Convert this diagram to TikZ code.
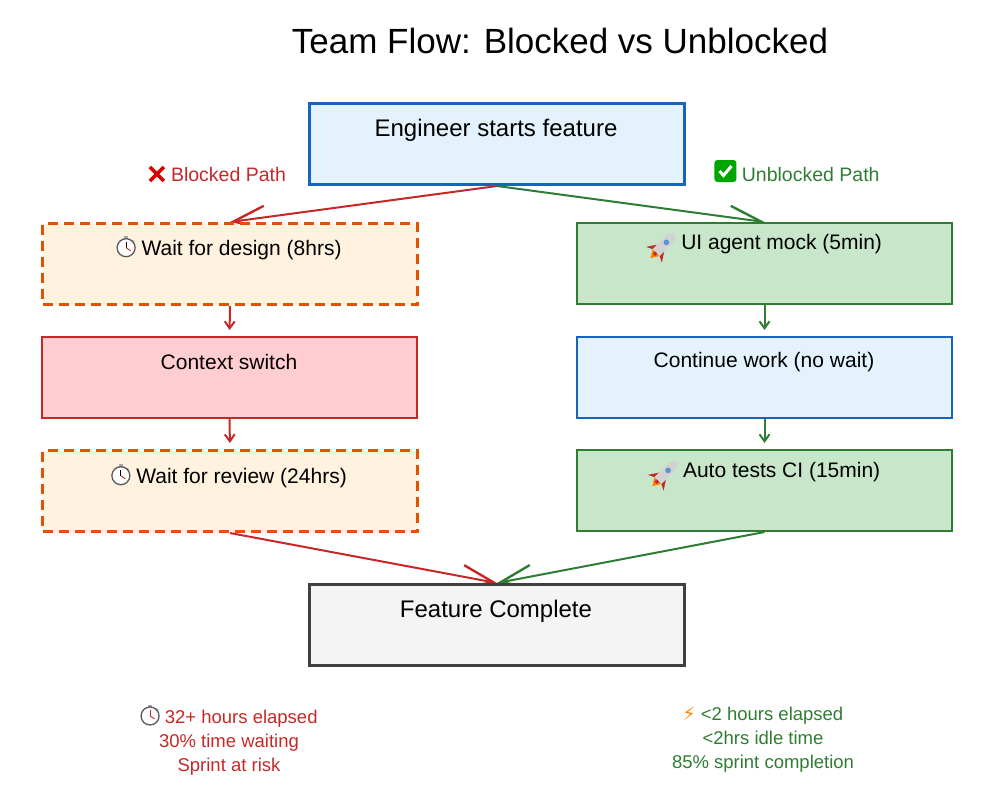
\documentclass[tikz,border=0pt]{standalone}
\usepackage{fontspec}
\setmainfont{Liberation Sans}
\newfontfamily\emo{DejaVu Sans}
\usetikzlibrary{arrows.meta,backgrounds}
\definecolor{rd}{HTML}{C62828}
\definecolor{gn}{HTML}{2E7D32}
\definecolor{bl}{HTML}{1565C0}
\definecolor{og}{HTML}{E65100}
\definecolor{fbl}{HTML}{E3F2FD}
\definecolor{for}{HTML}{FFF3E0}
\definecolor{fpk}{HTML}{FFCDD2}
\definecolor{fgn}{HTML}{C8E6C9}
\definecolor{fgy}{HTML}{F4F4F4}
\newcommand{\mysw}{\tikz[baseline=-3pt,x=1.5pt,y=1.5pt]{\fill[gray!70] (-1.5,8.5) rectangle (1.5,10.5);\fill[gray!70] (4.5,7) circle (1.2);\draw[gray!70!black,line width=1.3pt,fill=white] (0,3) circle (6);\draw[line width=1pt] (0,3)--(0,7);\draw[rd,line width=0.9pt] (0,3)--(3,1);}}
\newcommand{\myrk}{\tikz[baseline=-4pt,x=1.6pt,y=1.6pt,rotate=-45]{\fill[orange] (-3,-6)--(0,-11)--(3,-6)--cycle;\fill[rd] (-3,-2)--(-7,-8)--(-3,-6)--cycle;\fill[rd] (3,-2)--(7,-8)--(3,-6)--cycle;\fill[gray!35] (-3,-6) rectangle (3,4);\fill[gray!35] (-3,4)..controls(-3,8)..(0,11)..controls(3,8)..(3,4)--cycle;\fill[bl!70] (0,3) circle (1.8);\fill[rd] (-1,-8) rectangle (1,-6);}}
\newcommand{\myx}{\tikz[baseline=-2pt,x=1pt,y=1pt]{\draw[red!85!black,line width=3.5pt] (-7,-2)--(7,12) (-7,12)--(7,-2);}}
\newcommand{\myck}{\tikz[baseline=-4pt,x=1pt,y=1pt]{\fill[green!65!black,rounded corners=3pt] (-11,-5) rectangle (11,17);\draw[white,line width=3pt] (-6,6)--(-2,1.5)--(6,11);}}
\begin{document}
\begin{tikzpicture}[x=1pt,y=-1pt,
  box/.style={draw,line width=2pt,minimum width=375pt,minimum height=81pt,anchor=north west,inner sep=0pt},
  dsh/.style={draw=og,line width=3pt,dash pattern=on 10pt off 6pt,fill=for},
  lbl/.style={font=\fontsize{21}{25}\selectfont,anchor=center},
  ar/.style={line width=2pt,-{Straight Barb[length=32pt,width=23pt,line width=2.4pt]}},
  va/.style={line width=2pt,shorten >=6pt,-{Straight Barb[length=7pt,width=10pt,line width=2pt]}},
  note/.style={font=\fontsize{18.5}{24}\selectfont,align=center}]
\useasboundingbox (0,0) rectangle (1000,804);
\node[font=\fontsize{35}{40}\selectfont] (t) at (560,41) {Team Flow: Blocked vs Unblocked};
\node[box,draw=bl,line width=3pt,fill=fbl] (top) at (308,102) {};
\node[box,dsh] (l1) at (41,222) {};
\node[box,draw=rd,fill=fpk] (l2) at (41,336) {};
\node[box,dsh] (l3) at (41,449) {};
\node[box,draw=gn,fill=fgn] (r1) at (576,222) {};
\node[box,draw=bl,fill=fbl] (r2) at (576,336) {};
\node[box,draw=gn,fill=fgn] (r3) at (576,449) {};
\node[box,draw=black!75,line width=3pt,fill=fgy] (bot) at (308,583) {};
\node[lbl,font=\fontsize{24}{28}\selectfont] at (496,130) {Engineer starts feature};
\node[lbl] at (229,248) {\mysw\ Wait for design (8hrs)};
\node[lbl] at (229,362) {Context switch};
\node[lbl] at (229,476) {\mysw\ Wait for review (24hrs)};
\node[lbl] at (764,248) {\myrk\ UI agent mock (5min)};
\node[lbl] at (764,362) {Continue work (no wait)};
\node[lbl] at (764,476) {\myrk\ Auto tests CI (15min)};
\node[lbl,font=\fontsize{24}{28}\selectfont] at (496,611) {Feature Complete};
\node[note,text=rd,font=\fontsize{19.5}{24}\selectfont] at (217,174) {\myx\ Blocked Path};
\node[note,text=gn,font=\fontsize{19.5}{24}\selectfont] at (797,171) {\myck\ Unblocked Path};
\begin{scope}[on background layer]
\draw[ar,rd] (top.south) -- (l1.north);
\draw[va,rd] (l1.south) -- (l2.north);
\draw[va,rd] (l2.south) -- (l3.north);
\draw[ar,rd] (l3.south) -- (bot.north);
\draw[ar,gn] (top.south) -- (r1.north);
\draw[va,gn] (r1.south) -- (r2.north);
\draw[va,gn] (r2.south) -- (r3.north);
\draw[ar,gn] (r3.south) -- (bot.north);
\end{scope}
\node[note,text=rd] (n1) at (229,740) {\mysw\ 32+ hours elapsed\\30\% time waiting\\Sprint at risk};
\node[note,text=gn] (n2) at (763,740) {{\emo\color{orange}⚡}\ <2 hours elapsed\\<2hrs idle time\\85\% sprint completion};
\end{tikzpicture}
\end{document}
